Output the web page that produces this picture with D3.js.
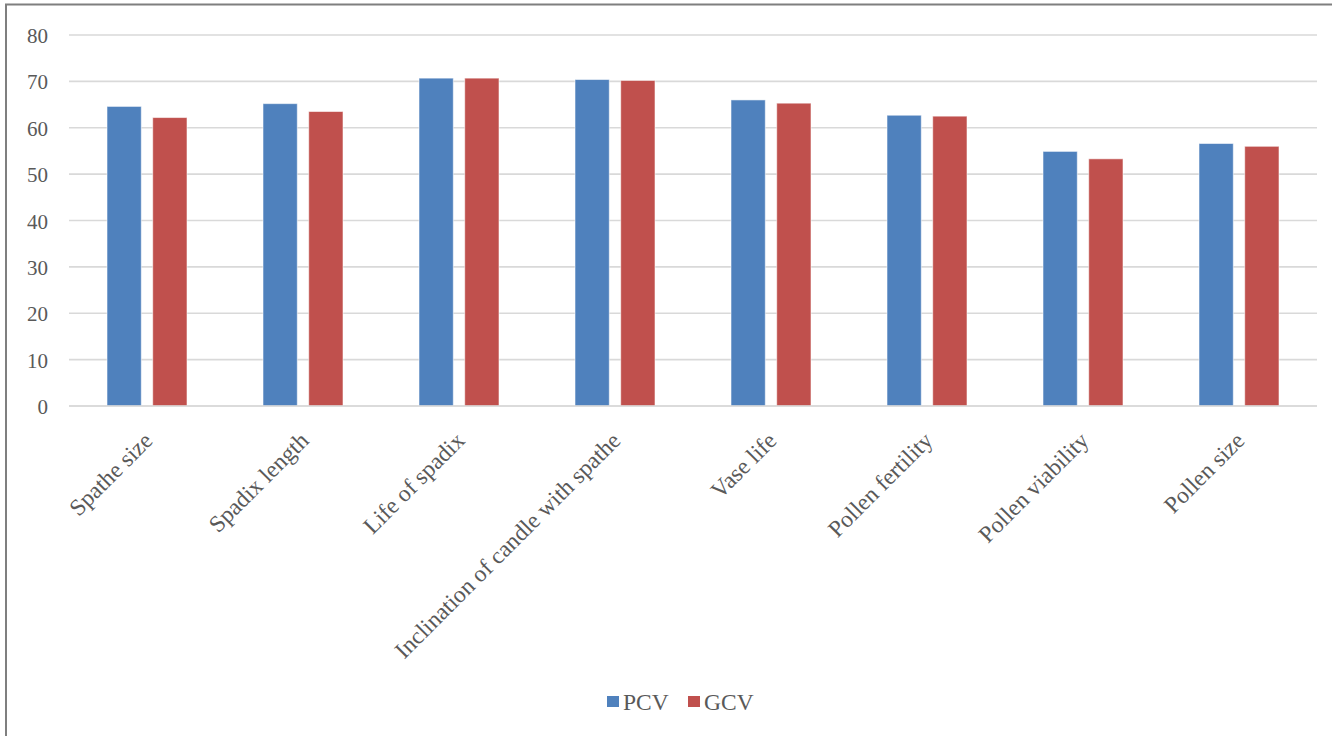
<!DOCTYPE html>
<html>
<head>
<meta charset="utf-8">
<script src="https://cdn.jsdelivr.net/npm/d3@7"></script>
<style>
  html, body { margin: 0; padding: 0; background: #fff; }
  svg { display: block; }
  text { font-family: "Liberation Serif", "Times New Roman", serif; fill: #595959; }
</style>
</head>
<body>
<svg id="chart" width="1332" height="736"></svg>
<script>
// Trait names and coefficient of variation values (%)
const categories = [
  "Spathe size", "Spadix length", "Life of spadix", "Inclination of candle with spathe",
  "Vase life", "Pollen fertility", "Pollen viability", "Pollen size"
];
const pcv = [64.6, 65.2, 70.7, 70.4, 66.0, 62.7, 54.9, 56.6];
const gcv = [62.2, 63.5, 70.7, 70.2, 65.3, 62.5, 53.3, 56.0];
const seriesNames = ["PCV", "GCV"];
const yTicks = [0, 10, 20, 30, 40, 50, 60, 70, 80];

const colors = { PCV: "#4F81BD", GCV: "#C0504D" };
const svg = d3.select("#chart");

// Outer chart frame (left and top edges visible)
svg.append("path")
  .attr("d", "M6,740 L6,4.5 L1340,4.5")
  .attr("fill", "none")
  .attr("stroke", "#7f7f7f")
  .attr("stroke-width", 2);

const plot = { left: 69, right: 1317, top: 35, bottom: 406 };

const x0 = d3.scaleBand()
  .domain(categories)
  .range([plot.left, plot.right])
  .paddingInner(0)
  .paddingOuter(0);

const x1 = d3.scaleBand()
  .domain(seriesNames)
  .range([0, 80])
  .paddingInner(0.25)
  .paddingOuter(0);

const y = d3.scaleLinear().domain([0, 80]).range([plot.bottom, plot.top]);

// Horizontal gridlines
svg.append("g")
  .selectAll("line")
  .data(yTicks)
  .join("line")
  .attr("x1", plot.left)
  .attr("x2", plot.right)
  .attr("y1", d => y(d))
  .attr("y2", d => y(d))
  .attr("stroke", "#d9d9d9")
  .attr("stroke-width", 1.6);

// Y axis labels
const yAxis = d3.axisLeft(y).tickValues(yTicks).tickSize(0).tickPadding(0);
const gy = svg.append("g")
  .attr("transform", `translate(${plot.left - 21},0)`)
  .call(yAxis);
gy.select(".domain").remove();
gy.selectAll("text")
  .attr("font-size", 21)
  .attr("dy", "0.36em")
  .style("font-family", '"Liberation Serif", serif')
  .attr("fill", "#595959");

// Bars
const rows = categories.map((c, i) => ({ cat: c, PCV: pcv[i], GCV: gcv[i] }));
const groups = svg.append("g")
  .selectAll("g")
  .data(rows)
  .join("g")
  .attr("transform", d => `translate(${x0(d.cat) + x0.bandwidth() / 2 - 40},0)`);

groups.selectAll("rect")
  .data(d => seriesNames.map(s => ({ s, v: d[s] })))
  .join("rect")
  .attr("x", d => x1(d.s))
  .attr("width", x1.bandwidth())
  .attr("y", d => y(d.v))
  .attr("height", d => y(0) - y(d.v))
  .attr("fill", d => colors[d.s])
  .attr("stroke", "rgba(255,255,255,0.55)")
  .attr("stroke-width", 1);

// Baseline
svg.append("line")
  .attr("x1", plot.left).attr("x2", plot.right)
  .attr("y1", y(0)).attr("y2", y(0))
  .attr("stroke", "#d9d9d9").attr("stroke-width", 1.6);

// Rotated category labels
const xAxis = d3.axisBottom(x0).tickSize(0).tickPadding(0);
const gx = svg.append("g")
  .attr("transform", `translate(0,${plot.bottom})`)
  .call(xAxis);
gx.select(".domain").remove();
gx.selectAll(".tick text")
  .attr("font-size", 23.5)
  .style("font-family", '"Liberation Serif", serif')
  .attr("fill", "#595959")
  .attr("text-anchor", "end")
  .attr("dy", null)
  .attr("y", 0)
  .attr("transform", "translate(7,36) rotate(-45)");

// Legend
const legend = svg.append("g").attr("transform", "translate(607,702)");
const legendItems = [
  { name: "PCV", x: 0 },
  { name: "GCV", x: 81 }
];
const li = legend.selectAll("g")
  .data(legendItems)
  .join("g")
  .attr("transform", d => `translate(${d.x},0)`);
li.append("rect")
  .attr("x", 0).attr("y", -6)
  .attr("width", 12).attr("height", 11)
  .attr("fill", d => colors[d.name]);
li.append("text")
  .attr("x", 16)
  .attr("y", 7.5)
  .attr("font-size", 23.5)
  .text(d => d.name);
</script>
</body>
</html>
